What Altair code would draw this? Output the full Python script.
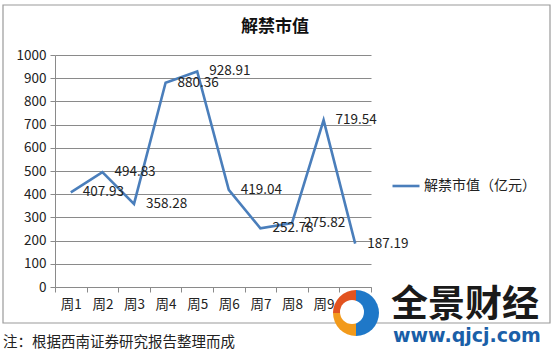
import math
import altair as alt
import pandas as pd

weeks = ["周1", "周2", "周3", "周4", "周5", "周6", "周7", "周8", "周9", "周10"]
values = [407.93, 494.83, 358.28, 880.36, 928.91, 419.04, 252.78, 275.82, 719.54, 187.19]
labels = ["407.93", "494.83", "358.28", "880.36", "928.91", "419.04", "252.78", "275.82", "719.54", "187.19"]
series_name = "解禁市值（亿元）"
title_text = "解禁市值"
note_text = "注：根据西南证券研究报告整理而成"
brand_text = "全景财经"
url_text = "www.qjcj.com"
y_ticks = [0, 100, 200, 300, 400, 500, 600, 700, 800, 900, 1000]

df = pd.DataFrame({"week": weeks, "value": values, "label": labels,
                   "series": [series_name] * len(weeks)})

W, H = 316, 232
LEFT, TOP = 55, 55
FONT = "Noto Sans CJK SC"
LINE_COLOR = "#4a7ebb"
GRID = "#8a8a8a"

one = alt.Data(values=[{"a": 1}])

x_enc = alt.X("week:N", sort=weeks,
              scale=alt.Scale(paddingInner=0, paddingOuter=0),
              axis=alt.Axis(title=None, labelAngle=0, tickBand="extent", tickSize=5,
                            domainColor=GRID, tickColor=GRID, labelFontSize=13.5,
                            labelColor="#222222", labelPadding=5, labelFont=FONT,
                            grid=False))
y_enc = alt.Y("value:Q", scale=alt.Scale(domain=[0, 1000], nice=False),
              axis=alt.Axis(title=None, values=y_ticks, tickCount=11, format="d",
                            labelOverlap=False, grid=True, gridColor=GRID,
                            domainColor=GRID, tickColor=GRID, tickSize=5,
                            labelFontSize=13.5, labelColor="#222222", labelPadding=4,
                            labelFont=FONT))

border = alt.Chart(one).mark_rect(fillOpacity=0, stroke="#9a9a9a", strokeWidth=1.2).encode(
    x=alt.value(3 - LEFT), x2=alt.value(550 - LEFT),
    y=alt.value(5 - TOP), y2=alt.value(323 - TOP))

line = alt.Chart(df).mark_line(strokeWidth=2.6).encode(
    x=x_enc, y=y_enc,
    color=alt.Color("series:N", scale=alt.Scale(domain=[series_name], range=[LINE_COLOR]),
                    legend=alt.Legend(title=None, orient="none", legendX=393 - LEFT - 2,
                                      legendY=180 - TOP - 9, symbolType="stroke",
                                      symbolSize=729, symbolStrokeWidth=2.6,
                                      labelFontSize=14, labelFont=FONT, labelColor="#222222",
                                      labelOffset=3)))

texts = alt.Chart(df).mark_text(align="left", baseline="middle", dx=12, fontSize=13.5,
                                font=FONT, color="#222222").encode(
    x=alt.X("week:N", sort=weeks), y="value:Q", text="label:N")

title = alt.Chart(one).mark_text(fontSize=17, fontWeight="bold", font=FONT, color="#111111",
                                 align="center", baseline="middle").encode(
    x=alt.value(275 - LEFT), y=alt.value(27 - TOP), text=alt.value(title_text))

note = alt.Chart(one).mark_text(fontSize=14.5, font=FONT, color="#222222",
                                align="left", baseline="middle").encode(
    x=alt.value(3 - LEFT), y=alt.value(343 - TOP), text=alt.value(note_text))

brand = alt.Chart(one).mark_text(fontSize=37, fontWeight="bold", font=FONT, color="#1a1a1a",
                                 align="left", baseline="middle").encode(
    x=alt.value(391 - LEFT), y=alt.value(306 - TOP), text=alt.value(brand_text))

url = alt.Chart(one).mark_text(fontSize=19, fontWeight="bold", font="DejaVu Sans", color="#1a5fa8",
                               align="left", baseline="middle").encode(
    x=alt.value(393 - LEFT), y=alt.value(336 - TOP), text=alt.value(url_text))

cx, cy = 356 - LEFT, 313 - TOP
logo_blue = alt.Chart(one).mark_arc(color="#1f78c8").encode(
    x=alt.value(cx), y=alt.value(cy), theta=alt.value(0), theta2=alt.value(math.pi),
    radius=alt.value(23))
logo_red = alt.Chart(one).mark_arc(color="#e2531f").encode(
    x=alt.value(cx), y=alt.value(cy), theta=alt.value(1.5 * math.pi), theta2=alt.value(2 * math.pi),
    radius=alt.value(23))
logo_yel = alt.Chart(one).mark_arc(color="#f29a1b").encode(
    x=alt.value(cx), y=alt.value(cy), theta=alt.value(math.pi), theta2=alt.value(1.5 * math.pi),
    radius=alt.value(23))
logo_hole = alt.Chart(one).mark_arc(color="white").encode(
    x=alt.value(cx - 4), y=alt.value(cy - 1), theta=alt.value(0), theta2=alt.value(2 * math.pi),
    radius=alt.value(12))

chart = alt.layer(border, line, texts, title, note, logo_blue, logo_red, logo_yel, logo_hole,
                  brand, url).properties(
    width=W, height=H,
    autosize=alt.AutoSizeParams(type="none"),
    padding={"left": LEFT, "top": TOP, "right": 553 - LEFT - W, "bottom": 351 - TOP - H},
    background="white",
).configure_view(stroke=None)

chart.save("out.html", embed_options={"renderer": "svg", "actions": False})
